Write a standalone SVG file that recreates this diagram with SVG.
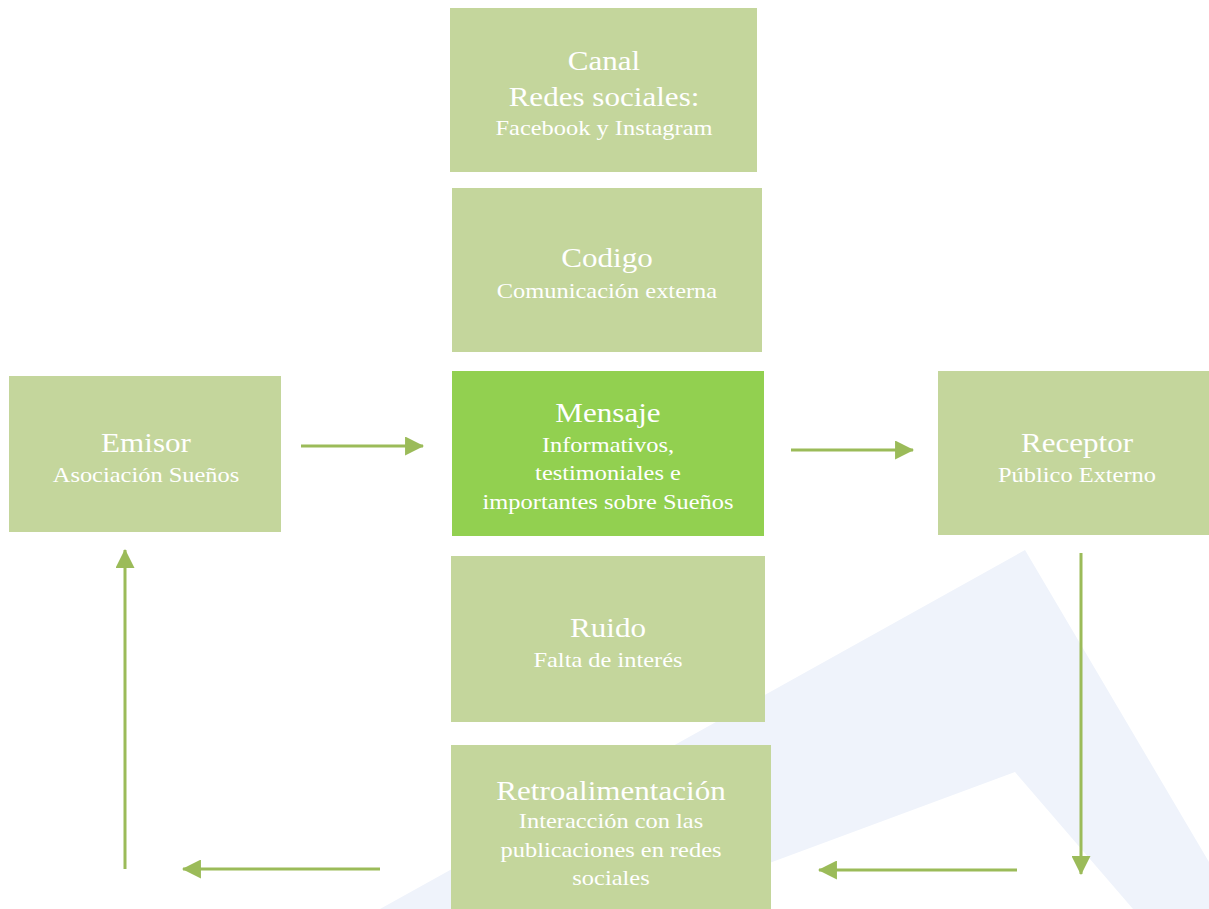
<svg xmlns="http://www.w3.org/2000/svg" width="1209" height="909" viewBox="0 0 1209 909">
<style>
.box{fill:#c4d69c}
.hl{fill:#92d050}
.t{font-family:"Liberation Serif","Times New Roman",serif;fill:#ffffff;text-anchor:middle}
.h{font-size:28px}
.s{font-size:22px}
.c{stroke:#9bbb59;stroke-width:3;fill:none;marker-end:url(#ah)}
</style>
<defs>
<marker id="ah" viewBox="0 0 18 18" refX="17" refY="9" markerWidth="19" markerHeight="19" orient="auto" markerUnits="userSpaceOnUse">
<path d="M0,0 L18,9 L0,18 z" fill="#9bbb59"/>
</marker>
</defs>
<rect width="1209" height="909" fill="#ffffff"/>
<polygon id="watermark" points="380,909 1025,550 1209,862 1209,909 1133,909 1015,772 645,909" fill="#eff3fb"/>

<g id="canal">
<rect class="box" x="450" y="8" width="307" height="164"/>
<g transform="translate(604 0) scale(1.11 1)">
<text class="t h" x="0" y="70">Canal</text>
<text class="t h" x="0" y="106">Redes sociales:</text>
<text class="t s" x="0" y="135">Facebook y Instagram</text>
</g>
</g>

<g id="codigo">
<rect class="box" x="452" y="188" width="310" height="164"/>
<g transform="translate(607 0) scale(1.11 1)">
<text class="t h" x="0" y="267">Codigo</text>
<text class="t s" x="0" y="298">Comunicación externa</text>
</g>
</g>

<g id="emisor">
<rect class="box" x="9" y="376" width="272" height="156"/>
<g transform="translate(146 0) scale(1.11 1)">
<text class="t h" x="0" y="452">Emisor</text>
<text class="t s" x="0" y="482">Asociación Sueños</text>
</g>
</g>

<g id="mensaje">
<rect class="hl" x="452" y="371" width="312" height="165"/>
<g transform="translate(608 0) scale(1.11 1)">
<text class="t h" x="0" y="422">Mensaje</text>
<text class="t s" x="0" y="452">Informativos,</text>
<text class="t s" x="0" y="480">testimoniales e</text>
<text class="t s" x="0" y="509">importantes sobre Sueños</text>
</g>
</g>

<g id="receptor">
<rect class="box" x="938" y="371" width="271" height="164"/>
<g transform="translate(1077 0) scale(1.11 1)">
<text class="t h" x="0" y="452">Receptor</text>
<text class="t s" x="0" y="482">Público Externo</text>
</g>
</g>

<g id="ruido">
<rect class="box" x="451" y="556" width="314" height="166"/>
<g transform="translate(608 0) scale(1.11 1)">
<text class="t h" x="0" y="637">Ruido</text>
<text class="t s" x="0" y="667">Falta de interés</text>
</g>
</g>

<g id="retroalimentacion">
<rect class="box" x="451" y="745" width="320" height="164"/>
<g transform="translate(611 0) scale(1.11 1)">
<text class="t h" x="0" y="800">Retroalimentación</text>
<text class="t s" x="0" y="828">Interacción con las</text>
<text class="t s" x="0" y="857">publicaciones en redes</text>
<text class="t s" x="0" y="885">sociales</text>
</g>
</g>

<g id="connectors">
<line class="c" x1="301" y1="446" x2="423" y2="446"/>
<line class="c" x1="791" y1="450" x2="913" y2="450"/>
<line class="c" x1="1081" y1="553" x2="1081" y2="874"/>
<line class="c" x1="1017" y1="870" x2="819" y2="870"/>
<line class="c" x1="380" y1="869" x2="183" y2="869"/>
<line class="c" x1="125" y1="869" x2="125" y2="550"/>
</g>
</svg>
